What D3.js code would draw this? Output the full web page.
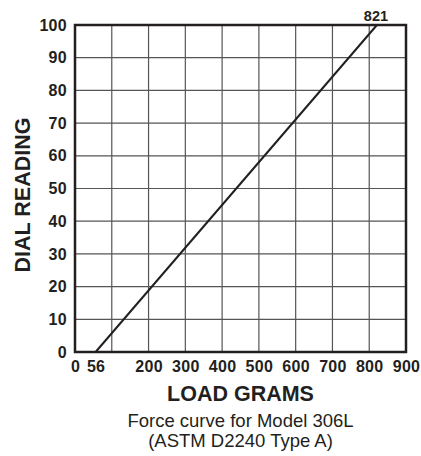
<!DOCTYPE html>
<html>
<head>
<meta charset="utf-8">
<script src="https://cdn.jsdelivr.net/npm/d3@7"></script>
<style>
  body { margin: 0; background: #fff; }
  text { font-family: "Liberation Sans", Arial, sans-serif; fill: #231f20; }
</style>
</head>
<body>
<svg></svg>
<script>
// data
var loadGrams = [56, 821];
var dialReading = [0, 100];
var xTicks = [0, 56, 200, 300, 400, 500, 600, 700, 800, 900];
var yTicks = [0, 10, 20, 30, 40, 50, 60, 70, 80, 90, 100];
var xGrid = [100, 200, 300, 400, 500, 600, 700, 800];
var endLabel = "821";

var screen = {width: 421, height: 456};
var margins = {left: 75, right: 15, top: 25, bottom: 104};
var graph = {
    width: screen.width - margins.left - margins.right,
    height: screen.height - margins.top - margins.bottom
};

var svg = d3.select("svg")
    .attr("width", screen.width)
    .attr("height", screen.height);

var target = svg.append("g")
    .attr("id", "graph")
    .attr("transform", "translate(" + margins.left + "," + margins.top + ")");

var xScale = d3.scaleLinear().domain([0, 900]).range([0, graph.width]);
var yScale = d3.scaleLinear().domain([0, 100]).range([graph.height, 0]);

// grid
target.append("g").selectAll("line")
    .data(xGrid)
    .enter().append("line")
    .attr("x1", function(d) { return xScale(d); })
    .attr("x2", function(d) { return xScale(d); })
    .attr("y1", 0)
    .attr("y2", graph.height)
    .attr("stroke", "#555")
    .attr("stroke-width", 1.2);

target.append("g").selectAll("line")
    .data(yTicks.slice(1, -1))
    .enter().append("line")
    .attr("x1", 0)
    .attr("x2", graph.width)
    .attr("y1", function(d) { return yScale(d); })
    .attr("y2", function(d) { return yScale(d); })
    .attr("stroke", "#555")
    .attr("stroke-width", 1.2);

// force line
var pts = loadGrams.map(function(d, i) { return [d, dialReading[i]]; });
target.append("path")
    .datum(pts)
    .attr("fill", "none")
    .attr("stroke", "#231f20")
    .attr("stroke-width", 2)
    .attr("d", d3.line()
        .x(function(d) { return xScale(d[0]); })
        .y(function(d) { return yScale(d[1]); }));

// frame
target.append("rect")
    .attr("x", 0).attr("y", 0)
    .attr("width", graph.width)
    .attr("height", graph.height)
    .attr("fill", "none")
    .attr("stroke", "#231f20")
    .attr("stroke-width", 2.5);

// axes (labels only)
var xAxis = target.append("g")
    .attr("transform", "translate(0," + graph.height + ")")
    .call(d3.axisBottom(xScale).tickValues(xTicks).tickSize(0).tickPadding(9).tickFormat(d3.format("d")));
var yAxis = target.append("g")
    .call(d3.axisLeft(yScale).tickValues(yTicks).tickSize(0).tickPadding(8));
[xAxis, yAxis].forEach(function(ax) {
    ax.select(".domain").remove();
    ax.attr("font-size", null).attr("font-family", null);
    ax.selectAll("text")
        .style("font-size", "16px")
        .style("font-weight", "bold")
        .style("letter-spacing", "0.3px")
        .attr("fill", "#231f20");
});

// end label
target.append("text")
    .attr("x", xScale(loadGrams[1]) - 1)
    .attr("y", yScale(dialReading[1]) - 4)
    .attr("text-anchor", "middle")
    .style("font-size", "14.5px")
    .style("font-weight", "bold")
    .text(endLabel);

// titles
svg.append("text")
    .attr("x", margins.left + graph.width / 2)
    .attr("y", 401)
    .attr("text-anchor", "middle")
    .style("font-size", "21.5px")
    .style("font-weight", "bold")
    .text("LOAD GRAMS");

svg.append("text")
    .attr("transform", "translate(30,195) rotate(-90)")
    .attr("text-anchor", "middle")
    .style("font-size", "21.5px")
    .style("font-weight", "bold")
    .text("DIAL READING");

svg.append("text")
    .attr("x", margins.left + graph.width / 2)
    .attr("y", 427)
    .attr("text-anchor", "middle")
    .style("font-size", "18.5px")
    .text("Force curve for Model 306L");

svg.append("text")
    .attr("x", margins.left + graph.width / 2)
    .attr("y", 447)
    .attr("text-anchor", "middle")
    .style("font-size", "18.5px")
    .text("(ASTM D2240 Type A)");
</script>
</body>
</html>
